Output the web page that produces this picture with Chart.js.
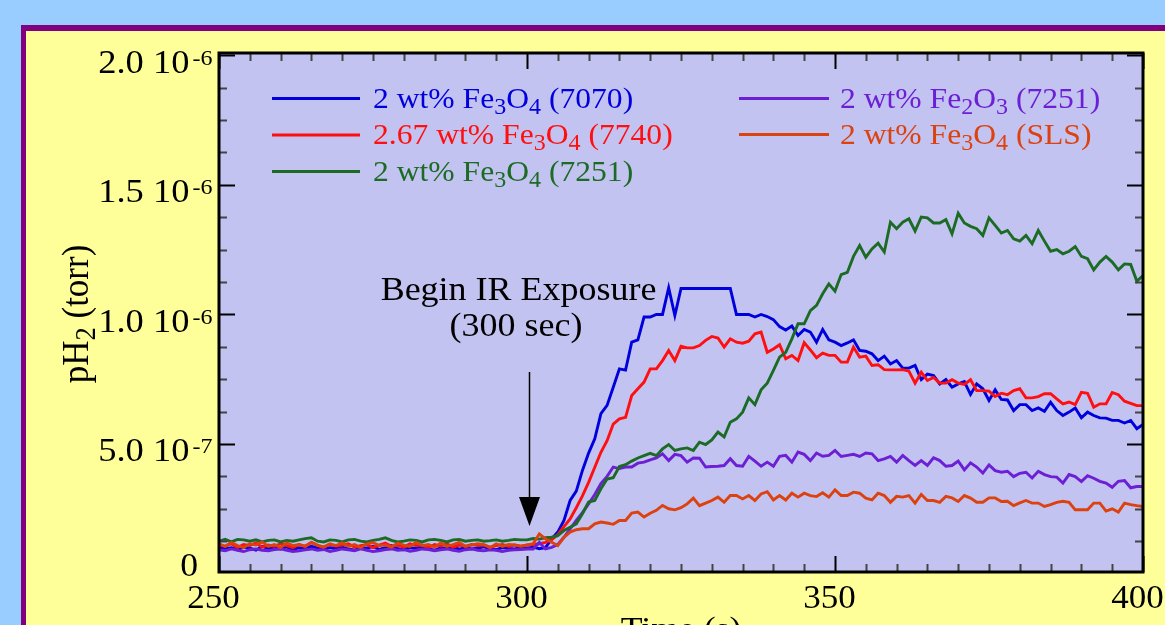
<!DOCTYPE html>
<html>
<head>
<meta charset="utf-8">
<script src="https://cdn.jsdelivr.net/npm/chart.js@4.4.1/dist/chart.umd.min.js"></script>
<style>
  html, body { margin: 0; padding: 0; }
  body { width: 1165px; height: 625px; overflow: hidden; background: #99ccff; position: relative; }
  #panel { position: absolute; left: 21px; top: 25px; width: 1200px; height: 700px; background: #ffff99;
           border-left: 5px solid #800080; border-top: 6px solid #800080; }
  #h2Chart { position: absolute; left: 0; top: 0; }
</style>
</head>
<body>
<div id="panel"></div>
<canvas id="h2Chart" width="1165" height="625"></canvas>
<script>
// H2 partial pressure vs time, one sample per second from 250 to 400 s.
// Pressures are in units of 1e-7 torr.
const seconds = Array.from({ length: 151 }, (_, i) => 250 + i);

const fe3o4_7070 = [
  1.0, 0.95, 1.0, 0.92, 1.02, 0.98, 0.9, 1.05, 0.97, 1.0,
  0.95, 1.03, 0.92, 1.0, 0.96, 1.05, 0.98, 0.93, 1.0, 0.97,
  1.02, 0.95, 0.9, 1.0, 0.98, 1.05, 0.93, 1.0, 1.08, 0.96,
  0.92, 1.0, 0.97, 1.04, 0.95, 0.9, 1.0, 0.96, 1.02, 0.94,
  1.0, 0.95, 0.98, 1.03, 0.96, 0.92, 1.0, 0.97, 0.95, 1.0,
  0.98, 1.02, 0.96, 1.0, 1.34, 1.6, 2.05, 2.82, 3.18, 3.98,
  4.65, 5.2, 6.17, 6.49, 7.19, 7.9, 7.85, 8.93, 9.02, 9.9,
  9.9, 10.0, 10.0, 11.03, 9.96, 11.0, 11.0, 11.0, 11.0, 11.0,
  11.0, 11.0, 11.0, 11.0, 10.0, 10.0, 10.0, 9.9, 10.0, 9.92,
  9.8, 9.53, 9.4, 9.55, 9.19, 9.42, 9.32, 8.93, 9.42, 9.02,
  8.93, 8.8, 8.9, 9.02, 8.61, 8.58, 8.48, 8.22, 8.39, 8.09,
  8.22, 7.93, 7.93, 8.03, 7.49, 7.7, 7.64, 7.32, 7.49, 7.19,
  7.32, 7.41, 6.91, 7.32, 7.13, 6.68, 7.09, 6.72, 6.7, 6.29,
  6.52, 6.52, 6.29, 6.39, 6.26, 6.61, 6.29, 6.1, 6.23, 6.39,
  6.01, 6.23, 6.1, 6.01, 6.0, 5.91, 5.91, 5.81, 5.91, 5.59,
  5.75
];
const fe3o4_7740 = [
  1.1, 1.05, 1.15, 1.0, 1.12, 1.08, 1.18, 1.02, 1.1, 1.05,
  1.15, 1.08, 1.0, 1.12, 1.05, 1.2, 1.08, 1.02, 1.12, 1.06,
  1.1, 1.15, 1.02, 1.08, 1.12, 1.0, 1.1, 1.18, 1.05, 1.1,
  1.02, 1.15, 1.08, 1.1, 1.0, 1.12, 1.06, 1.15, 1.02, 1.1,
  1.05, 1.12, 1.08, 1.1, 1.02, 1.08, 1.12, 1.05, 1.1, 1.06,
  1.1, 1.12, 1.15, 1.2, 1.3, 1.5, 1.81, 2.11, 2.54, 3.0,
  3.52, 4.1, 4.68, 5.13, 5.77, 5.97, 6.03, 6.87, 7.13, 7.39,
  7.9, 7.9, 8.22, 8.61, 8.22, 8.77, 8.71, 8.71, 8.8, 9.0,
  9.15, 9.09, 8.74, 9.06, 8.93, 8.89, 8.97, 9.25, 9.32, 8.54,
  8.67, 8.83, 8.29, 8.42, 8.22, 8.91, 8.63, 8.33, 8.51, 8.42,
  8.42, 8.16, 8.16, 8.74, 8.35, 8.39, 8.03, 8.06, 7.87, 7.86,
  7.86, 7.87, 7.81, 7.35, 7.77, 7.45, 7.57, 7.35, 7.35, 7.48,
  7.35, 7.3, 7.48, 7.06, 7.06, 7.04, 6.83, 6.96, 6.9, 7.06,
  7.13, 6.78, 6.78, 6.83, 6.94, 6.94, 6.74, 6.55, 6.62, 6.52,
  6.99, 6.96, 6.42, 6.55, 6.55, 6.99, 6.9, 6.65, 6.57, 6.48,
  6.48
];
const fe3o4_7251 = [
  1.25, 1.32, 1.22, 1.32, 1.3, 1.25, 1.3, 1.22, 1.28, 1.3,
  1.22, 1.28, 1.25, 1.3, 1.35, 1.38, 1.25, 1.22, 1.3, 1.28,
  1.22, 1.3, 1.32, 1.25, 1.22, 1.28, 1.32, 1.38, 1.28, 1.22,
  1.25, 1.3, 1.28, 1.22, 1.3, 1.32, 1.28, 1.22, 1.3, 1.32,
  1.25, 1.28, 1.3, 1.25, 1.27, 1.3, 1.25, 1.28, 1.32, 1.3,
  1.3, 1.35, 1.33, 1.38, 1.4, 1.46, 1.66, 1.79, 1.92, 2.31,
  2.76, 2.82, 3.27, 3.65, 3.7, 4.13, 4.2, 4.34, 4.46, 4.55,
  4.64, 4.55, 4.81, 4.98, 4.75, 4.81, 4.85, 4.75, 5.07, 4.98,
  5.16, 5.46, 5.27, 5.84, 5.97, 6.23, 6.78, 6.52, 7.09, 7.35,
  7.84, 8.35, 8.54, 9.06, 9.64, 9.64, 10.15, 10.35, 10.8, 11.18,
  10.9, 11.54, 11.62, 12.24, 12.66, 12.21, 12.53, 12.75, 12.41, 13.56,
  13.31, 13.56, 13.69, 13.22, 13.76, 13.73, 13.53, 13.53, 13.66, 13.11,
  13.91, 13.53, 13.4, 13.31, 13.05, 13.73, 13.44, 13.14, 13.24, 12.92,
  12.83, 13.05, 12.73, 13.24, 12.83, 12.44, 12.5, 12.34, 12.44, 12.62,
  12.24, 12.15, 11.72, 12.02, 12.24, 12.02, 11.72, 11.95, 11.93, 11.28,
  11.5
];
const fe2o3_7251 = [
  0.92, 0.88, 0.95, 0.9, 0.85, 0.92, 0.95, 0.9, 0.88, 0.93,
  0.95, 0.9, 0.85, 0.88, 0.92, 0.95, 0.9, 0.93, 0.85, 0.9,
  0.95, 0.92, 0.88, 0.95, 0.9, 0.85, 0.88, 0.93, 0.95, 0.9,
  0.92, 0.86, 0.9, 0.95, 0.93, 0.88, 0.92, 0.95, 0.9, 0.86,
  0.92, 0.95, 0.9, 0.88, 0.92, 0.9, 0.85, 0.9, 0.92, 0.93,
  0.95, 0.95, 1.2, 0.95, 1.01, 1.12, 1.4, 1.72, 2.05, 2.35,
  2.69, 3.05, 3.47, 3.75, 4.11, 4.05, 4.11, 4.11, 4.26, 4.3,
  4.39, 4.46, 4.62, 4.36, 4.6, 4.55, 4.3, 4.46, 4.45, 4.11,
  4.13, 4.14, 4.17, 4.43, 4.17, 4.14, 4.52, 4.34, 4.14, 4.3,
  4.14, 4.52, 4.56, 4.3, 4.69, 4.6, 4.36, 4.65, 4.53, 4.56,
  4.75, 4.52, 4.56, 4.6, 4.52, 4.65, 4.62, 4.36, 4.43, 4.52,
  4.3, 4.56, 4.36, 4.17, 4.36, 4.17, 4.47, 4.36, 4.14, 4.17,
  4.34, 4.0, 4.27, 4.11, 3.88, 4.19, 3.97, 3.91, 3.95, 3.74,
  3.87, 3.91, 3.69, 3.95, 3.82, 3.74, 3.72, 3.49, 3.82, 3.74,
  3.55, 3.78, 3.68, 3.56, 3.49, 3.33, 3.56, 3.59, 3.31, 3.36,
  3.36
];
const fe3o4_sls = [
  1.15, 1.05, 1.2, 1.08, 1.0, 1.15, 1.1, 1.22, 1.05, 1.12,
  1.0, 1.18, 1.08, 1.12, 1.05, 1.2, 1.1, 1.02, 1.15, 1.08,
  1.18, 1.05, 1.12, 1.0, 1.15, 1.2, 1.08, 1.1, 1.02, 1.18,
  1.1, 1.05, 1.2, 1.08, 1.12, 1.02, 1.18, 1.05, 1.12, 1.2,
  1.05, 1.1, 1.15, 1.12, 1.0, 1.15, 1.05, 1.12, 1.1, 1.05,
  1.1, 1.15, 1.53, 1.34, 1.21, 1.08, 1.4, 1.6, 1.69, 1.73,
  1.73, 1.92, 1.99, 1.95, 1.9, 2.05, 2.05, 2.33, 2.37, 2.18,
  2.33, 2.44, 2.63, 2.5, 2.46, 2.54, 2.69, 2.91, 2.62, 2.72,
  2.82, 2.95, 2.75, 3.01, 3.01, 2.88, 3.01, 2.82, 3.07, 3.16,
  2.84, 3.01, 2.84, 3.1, 2.95, 3.1, 3.01, 2.97, 3.12, 2.95,
  3.23, 3.01, 3.01, 3.14, 3.1, 2.91, 2.84, 3.1, 3.01, 2.75,
  2.98, 2.95, 3.01, 2.72, 3.05, 2.82, 2.82, 2.75, 2.98, 2.92,
  2.78, 3.01, 2.91, 2.75, 2.75, 2.92, 2.92, 2.78, 2.79, 2.62,
  2.73, 2.82, 2.72, 2.72, 2.59, 2.66, 2.75, 2.79, 2.75, 2.46,
  2.46, 2.46, 2.72, 2.72, 2.41, 2.5, 2.37, 2.72, 2.66, 2.62,
  2.59
];

// "_n" marks a subscript digit
const seriesNames = [
  '2 wt% Fe_3O_4 (7070)',
  '2.67 wt% Fe_3O_4 (7740)',
  '2 wt% Fe_3O_4 (7251)',
  '2 wt% Fe_2O_3 (7251)',
  '2 wt% Fe_3O_4 (SLS)'
];
const seriesColors = ['#0000dd', '#ff0f0f', '#1b6b25', '#6c1fd4', '#dc4210'];
const seriesData = [fe3o4_7070, fe3o4_7740, fe3o4_7251, fe2o3_7251, fe3o4_sls];
const drawOrder = [4, 3, 1, 2, 0];

const xMajor = [250, 300, 350, 400];
const xTickLabels = ['250', '300', '350', '400'];
const yMajor = [0, 5, 10, 15, 20];
const yTickLabels = [['0', ''], ['5.0 10', '-7'], ['1.0 10', '-6'], ['1.5 10', '-6'], ['2.0 10', '-6']];

const SERIF = '"Liberation Serif", "Times New Roman", serif';
const SX = 1.09;   // text in this plot is slightly wide
const PLOT_BG = '#c3c3f1';

function runsWidth(ctx, runs, sx) {
  let w = 0;
  runs.forEach(r => { ctx.font = r.size + 'px ' + SERIF; w += ctx.measureText(r.text).width * sx + (r.gap || 0); });
  return w;
}

function drawRuns(ctx, runs, x, y, align, sx = SX) {
  const w = runsWidth(ctx, runs, sx);
  let cx = align === 'right' ? x - w : align === 'center' ? x - w / 2 : x;
  runs.forEach(r => {
    ctx.font = r.size + 'px ' + SERIF;
    cx += r.gap || 0;
    const rw = ctx.measureText(r.text).width;
    ctx.save();
    ctx.translate(cx, y + (r.dy || 0));
    ctx.scale(sx, 1);
    ctx.fillText(r.text, 0, 0);
    ctx.restore();
    cx += rw * sx;
  });
}

function subRuns(label, size) {
  return label.split(/_(\d)/)
    .map((part, i) => i % 2 ? { text: part, size: size * 0.76, dy: 6 } : { text: part, size: size })
    .filter(r => r.text.length);
}

const plotFrame = {
  id: 'plotFrame',
  beforeDatasetsDraw(chart) {
    const { ctx, chartArea: a } = chart;
    ctx.save();
    ctx.fillStyle = PLOT_BG;
    ctx.fillRect(a.left, a.top, a.right - a.left, a.bottom - a.top);
    ctx.restore();
  },
  afterDatasetsDraw(chart) {
    const { ctx, chartArea: a, scales: { x, y } } = chart;
    ctx.save();

    // inward ticks on all four sides
    ctx.lineWidth = 2;
    for (let t = 250; t <= 400; t += 5) {
      const px = Math.round(x.getPixelForValue(t)) + 0.5;
      const major = t % 50 === 0;
      const len = major ? 16 : 8;
      ctx.strokeStyle = major ? '#000' : '#444';
      ctx.beginPath();
      ctx.moveTo(px, a.bottom); ctx.lineTo(px, a.bottom - len);
      ctx.moveTo(px, a.top); ctx.lineTo(px, a.top + len);
      ctx.stroke();
    }
    for (let v = 0; v <= 20; v += 1.25) {
      const py = Math.round(y.getPixelForValue(v)) + 0.5;
      if (py > a.bottom) continue;
      const major = v % 5 === 0;
      const len = major ? 16 : 8;
      ctx.strokeStyle = major ? '#000' : '#444';
      ctx.beginPath();
      ctx.moveTo(a.left, py); ctx.lineTo(a.left + len, py);
      ctx.moveTo(a.right, py); ctx.lineTo(a.right - len, py);
      ctx.stroke();
    }

    ctx.strokeStyle = '#000';
    ctx.lineWidth = 3;
    ctx.strokeRect(a.left, a.top, a.right - a.left, a.bottom - a.top);

    ctx.fillStyle = '#000';
    ctx.textBaseline = 'alphabetic';

    // x tick labels
    xMajor.forEach((t, i) => {
      drawRuns(ctx, [{ text: xTickLabels[i], size: 34 }], x.getPixelForValue(t) - 5.5, 608, 'center', 1.03);
    });

    // y tick labels with power-of-ten exponents
    yMajor.forEach((v, i) => {
      const [main, exp] = yTickLabels[i];
      if (!exp) {
        drawRuns(ctx, [{ text: main, size: 34 }], 198, 576, 'right', 1.05);
        return;
      }
      const by = y.getPixelForValue(v) + 17.5;
      drawRuns(ctx, [{ text: main, size: 33.5 }, { text: exp, size: 22, dy: -8, gap: 3 }], 212.5, by, 'right');
    });

    // axis titles
    drawRuns(ctx, [{ text: 'Time (s)', size: 34 }], (a.left + a.right) / 2, 640, 'center', 1.05);
    ctx.save();
    ctx.translate(88, 314);
    ctx.rotate(-Math.PI / 2);
    ctx.scale(1, SX);
    drawRuns(ctx, subRuns('pH_2 (torr)', 35), 0, 0, 'center', 1);
    ctx.restore();

    // legend, two columns
    const slots = [
      [272, 360, 373, 98.5], [272, 360, 373, 135], [272, 360, 373, 171.5],
      [739, 829, 840, 98.5], [739, 829, 840, 134.5]
    ];
    seriesNames.forEach((name, i) => {
      const [x0, x1, tx, ly] = slots[i];
      ctx.strokeStyle = seriesColors[i];
      ctx.lineWidth = 3;
      ctx.beginPath();
      ctx.moveTo(x0, ly); ctx.lineTo(x1, ly);
      ctx.stroke();
      ctx.fillStyle = seriesColors[i];
      drawRuns(ctx, subRuns(name, 29), tx, ly + 9, 'left');
    });

    // IR exposure marker
    const ax = x.getPixelForValue(300) + 2.5;
    ctx.fillStyle = '#000';
    ctx.strokeStyle = '#000';
    drawRuns(ctx, [{ text: 'Begin IR Exposure', size: 33 }], 518.5, 299.5, 'center');
    drawRuns(ctx, [{ text: '(300 sec)', size: 33 }], 516, 336, 'center');
    ctx.lineWidth = 1.5;
    ctx.beginPath();
    ctx.moveTo(ax, 372); ctx.lineTo(ax, 500);
    ctx.stroke();
    ctx.beginPath();
    ctx.moveTo(ax - 10.5, 497); ctx.lineTo(ax + 10.5, 497); ctx.lineTo(ax, 526);
    ctx.closePath();
    ctx.fill();

    ctx.restore();
  }
};

new Chart(document.getElementById('h2Chart').getContext('2d'), {
  type: 'line',
  data: {
    datasets: seriesData.map((vals, i) => ({
      label: seriesNames[i].replace(/_/g, ''),
      data: vals.map((v, j) => ({ x: seconds[j], y: v })),
      borderColor: seriesColors[i],
      borderWidth: 2.9,
      pointRadius: 0,
      tension: 0,
      fill: false,
      order: drawOrder[i]
    }))
  },
  options: {
    responsive: false,
    animation: false,
    events: [],
    layout: { padding: { left: 219, right: 22, top: 53, bottom: 53 } },
    plugins: { legend: { display: false }, tooltip: { enabled: false } },
    scales: {
      x: { type: 'linear', min: 250, max: 400, display: false },
      y: { type: 'linear', min: 0.06, max: 20.09, display: false }
    }
  },
  plugins: [plotFrame]
});
</script>
</body>
</html>
